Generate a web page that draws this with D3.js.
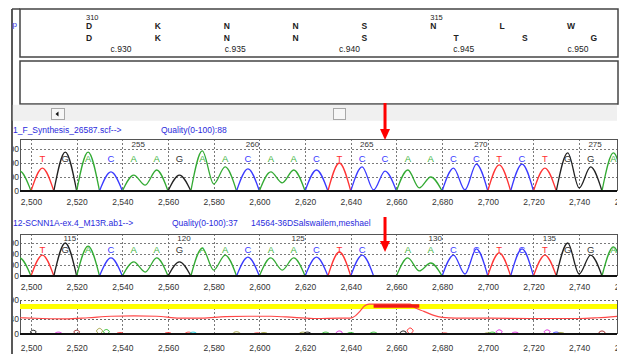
<!DOCTYPE html>
<html><head><meta charset="utf-8">
<script src="https://cdn.jsdelivr.net/npm/d3@7"></script>
<style>
html,body{margin:0;padding:0;background:#fff;}
svg{display:block;font-family:"Liberation Sans",Arial,sans-serif;}
</style></head><body>
<svg id="c" width="620" height="354"></svg>
<script>
// ---------------- data ----------------
const xTicks = [2500,2520,2540,2560,2580,2600,2620,2640,2660,2680,2700,2720,2740,2760];

// protein / cDNA header
const aaRef = ["D","K","N","N","S","N","L","W"];
const aaRefIdx = [0,1,2,3,4,5,6,7];
const aaMut = ["D","K","N","N","S","T","S","G"];
const aaMutIdx = [0,1,2,3,4,5.33,6.33,7.33];
const aaNums = [310,315];
const aaNumIdx = [0,5];
const cLabels = [930,935,940,945,950];

// reference trace (sample 1)
const refLabel = "1_F_Synthesis_26587.scf-->";
const refQuality = "Quality(0-100):88";
const refPos = [2495,2505,2515,2525,2535,2545,2555,2565,2575,2585,2595,2605,2615,2625,2635,2645,2655,2665,2675,2685,2695,2705,2715,2725,2735,2745,2755];
const refBases = ["A","T","G","A","C","A","A","G","A","A","C","A","A","C","T","C","C","A","A","C","C","T","C","T","G","G","A"];
const refHeights = [710,820,1390,1390,680,570,750,570,1430,860,790,680,750,750,1000,860,710,750,500,820,960,930,960,820,1360,860,1360];
const refTroughs = [[2550,210],[2580,250],[2610,290],[2650,40],[2670,110],[2690,40],[2740,110]];
const refNums = [255,260,265,270,275];
const refNumPos = [2545,2595,2645,2695,2745];
const refYTicks = [0,500,1000,1500];

// patient trace (sample 2)
const mutLabel = "12-SCNN1A-ex.4_M13R.ab1-->";
const mutQuality = "Quality(0-100):37";
const mutOwner = "14564-36DSalswailem,meshael";
const mutPos = [2495,2505,2515,2525,2535,2545,2555,2565,2575,2585,2595,2605,2615,2625,2635,2645,2665,2675,2685,2695,2705,2715,2725,2735,2745,2755];
const mutBases = ["A","T","G","A","C","A","A","G","A","A","C","A","A","C","T","C","A","A","C","C","T","C","T","G","G","A"];
const mutHeights = [820,950,1500,1360,820,640,820,640,1270,950,860,820,820,860,1090,950,820,590,950,1230,1050,1230,950,1500,950,1320];
const mutTroughs = [[2550,180],[2580,270],[2610,270],[2670,230],[2690,90],[2740,90]];
const mutNums = [115,120,125,130,135];
const mutNumPos = [2515,2565,2615,2675,2725];
const mutYTicks = [0,500,1000,1500];

// deletion marker
const arrowPos = 2655;

// difference panel
const qualPos = [2495,2505,2515,2525,2535,2545,2555,2565,2575,2585,2595,2605,2615,2625,2635,2640,2642,2644,2646,2648,2666,2668,2672,2676,2680,2686,2700,2720,2740,2748,2757];
const qualVal = [43,41,40,43,47,48,47,42,42,46,47,47,44,41,42,42,48,60,74,79,79,70,60,50,44,42,42,41,41,43,47];
const threshold = 73;
const flagRange = [2650,2670];
const diffYTicks = [0,40,90];
const loopPos = [2501,2512,2520,2530,2533,2539,2560,2569,2571,2590,2599,2602,2619,2621,2629,2635,2640,2650,2663,2666,2681,2700,2702,2705,2712,2726,2730,2732,2750];
const loopH =   [10,5,10,15,12,4,4,5,5,6,3,4,5,5,5,8,4,5,8,16,3,3,5,11,5,11,5,4,8];
const loopCol = ["#111","#e030e0","#a02828","#a0a040","#30c030","#ff4040","#ff4040","#ff4040","#20d0e0","#a0a040","#ff4040","#a0a040","#a0a040","#111","#30c030","#e030e0","#30c030","#30c030","#111","#ff3030","#ff4040","#a0a040","#30c030","#e030e0","#e030e0","#e030e0","#3030ff","#a0a040","#a02828"];

// ---------------- drawing ----------------
const svg = d3.select("#c");
const traceCol = {A:"#33aa33", C:"#3a3aff", G:"#222222", T:"#ff3434"};
const letterCol = {A:"#3cb43c", C:"#3a3aff", G:"#333333", T:"#ff3030"};
const L = 20, R = 617;
const x = d3.scaleLinear().domain([2500,2760]).range([31, 31 + 260*2.284]);

const defs = svg.append("defs");
defs.append("clipPath").attr("id","plotClip").append("rect").attr("x",L).attr("y",0).attr("width",R-L).attr("height",354);
defs.append("clipPath").attr("id","ylabClip").append("rect").attr("x",13).attr("y",0).attr("width",L-13).attr("height",354);

// outer frame line
svg.append("line").attr("x1",12).attr("x2",12).attr("y1",9).attr("y2",354).attr("stroke","#222").attr("stroke-width",1.5);
svg.append("line").attr("x1",12).attr("x2",L).attr("y1",9).attr("y2",9).attr("stroke","#444").attr("stroke-width",1.5);
svg.append("text").attr("x",12.5).attr("y",27).attr("font-size",8).attr("fill","#3030e0").text("p");

// header boxes
svg.append("rect").attr("x",L).attr("y",9).attr("width",618-L).attr("height",48).attr("fill","#fff").attr("stroke","#444").attr("stroke-width",1.5);
svg.append("rect").attr("x",L).attr("y",61).attr("width",618-L).attr("height",43).attr("fill","#fff").attr("stroke","#444").attr("stroke-width",1.5);

const aaX = d3.scaleLinear().domain([0,7]).range([89,571]);
const cX = d3.scaleLinear().domain([930,950]).range([121,578]);
const hdr = svg.append("g").attr("fill","#222");
hdr.selectAll("text.aa1").data(aaRef).join("text").attr("x",(d,i)=>aaX(aaRefIdx[i])).attr("y",29)
  .attr("text-anchor","middle").attr("font-size",8.5).attr("font-weight","bold").text(d=>d);
hdr.selectAll("text.aa2").data(aaMut).join("text").attr("x",(d,i)=>aaX(aaMutIdx[i])).attr("y",40.5)
  .attr("text-anchor","middle").attr("font-size",8.5).attr("font-weight","bold").text(d=>d);
hdr.selectAll("text.num").data(aaNums).join("text").attr("x",(d,i)=>aaX(aaNumIdx[i])-3).attr("y",19.5)
  .attr("font-size",7.5).text(d=>d);
hdr.selectAll("text.c").data(cLabels).join("text").attr("x",d=>cX(d)).attr("y",52)
  .attr("text-anchor","middle").attr("font-size",8.5).text(d=>"c."+d);

// scrollbar
svg.append("rect").attr("x",12.8).attr("y",104.8).attr("width",R-12.8).attr("height",16).attr("fill","#f0f0f0");
svg.append("rect").attr("x",51.5).attr("y",108.5).attr("width",13).attr("height",11).attr("fill","#f7f7f7").attr("stroke","#a8a8a8");
svg.append("path").attr("d",`M55.5,114 L58.5,111.5 L58.5,116.5 Z`).attr("fill","#111");
svg.append("rect").attr("x",333.5).attr("y",108.5).attr("width",12).attr("height",11).attr("fill","#f7f7f7").attr("stroke","#a8a8a8");

function buildSegments(bases, pos, heights, troughs){
  const tm = new Map(troughs);
  const segs = [];
  let cur = null;
  for(let i=0;i<bases.length;i++){
    const adj = cur && cur.base===bases[i] && pos[i]-cur.last<=10.5;
    if(!adj){
      if(cur){ cur.pts.push([cur.last+5,0]); segs.push(cur); }
      cur = {base:bases[i], pts:[[pos[i]-5,0]], last:pos[i]};
    } else {
      const m = (cur.last+pos[i])/2;
      cur.pts.push([m, tm.get(m)||0]);
      cur.last = pos[i];
    }
    cur.pts.push([pos[i], heights[i]]);
  }
  if(cur){ cur.pts.push([cur.last+5,0]); segs.push(cur); }
  return segs;
}

function drawTrace(cfg){
  const {top, base, yMax, yTicks, bases, pos, heights, troughs, nums, numPos, letterY, numY, axisPad} = cfg;
  const y = d3.scaleLinear().domain([0,yMax]).range([base, top]);
  const g = svg.append("g");
  g.selectAll("line.hg").data(yTicks.filter(d=>d>0)).join("line")
    .attr("x1",L).attr("x2",R).attr("y1",d=>Math.round(y(d))+0.5).attr("y2",d=>Math.round(y(d))+0.5)
    .attr("stroke","#7a7a7a").attr("stroke-dasharray","2,2");
  g.selectAll("line.vg").data(xTicks).join("line").attr("clip-path","url(#plotClip)")
    .attr("x1",d=>Math.round(x(d))+0.5).attr("x2",d=>Math.round(x(d))+0.5).attr("y1",top).attr("y2",base)
    .attr("stroke","#7a7a7a").attr("stroke-dasharray","2,2");
  g.append("line").attr("x1",L).attr("x2",R).attr("y1",top+0.5).attr("y2",top+0.5).attr("stroke","#555");
  g.append("line").attr("x1",L+0.5).attr("x2",L+0.5).attr("y1",top).attr("y2",base).attr("stroke","#555");
  g.append("line").attr("x1",R+0.5).attr("x2",R+0.5).attr("y1",top).attr("y2",base).attr("stroke","#555");
  g.append("g").attr("clip-path","url(#ylabClip)").selectAll("text").data(yTicks).join("text")
    .attr("x",19).attr("y",d=>y(d)).attr("dy","0.35em").attr("text-anchor","end")
    .attr("font-size",8.5).attr("fill","#333").text(d=>d);
  const line = d3.line().x(d=>x(d[0])).y(d=>y(d[1])).curve(d3.curveMonotoneX);
  const segs = buildSegments(bases,pos,heights,troughs);
  g.append("g").attr("clip-path","url(#plotClip)").selectAll("path").data(segs).join("path")
    .attr("d",d=>line(d.pts)).attr("fill","none").attr("stroke",d=>traceCol[d.base]).attr("stroke-width",1.3);
  g.append("line").attr("x1",L).attr("x2",R).attr("y1",base).attr("y2",base).attr("stroke","#111").attr("stroke-width",2);
  const calls = pos.map((p,i)=>({p, b:bases[i]})).filter(d=>d.p>=2500);
  g.append("g").attr("clip-path","url(#plotClip)").selectAll("text").data(calls).join("text")
    .attr("x",d=>x(d.p)).attr("y",letterY).attr("text-anchor","middle").attr("font-size",9.5)
    .attr("fill",d=>letterCol[d.b]).text(d=>d.b);
  g.selectAll("text.n").data(nums).join("text").attr("x",(d,i)=>x(numPos[i])+4.5).attr("y",numY)
    .attr("text-anchor","middle").attr("font-size",8).attr("fill","#333").text(d=>d);
  const ax = g.append("g").attr("transform",`translate(0,${base})`).attr("clip-path","url(#plotClip)")
    .call(d3.axisBottom(x).tickValues(xTicks).tickFormat(d3.format(",")).tickSize(0).tickPadding(axisPad));
  ax.select(".domain").remove();
  ax.selectAll("text").attr("font-size",8.5).attr("fill","#333").attr("font-family","Liberation Sans, Arial, sans-serif");
  return y;
}

const lab = svg.append("g").attr("fill","#2a2adc").attr("font-size",8.5);
lab.append("text").attr("x",13).attr("y",133).text(refLabel);
lab.append("text").attr("x",161).attr("y",133).text(refQuality);
lab.append("text").attr("x",13).attr("y",226).text(mutLabel);
lab.append("text").attr("x",172).attr("y",226).text(mutQuality);
lab.append("text").attr("x",251).attr("y",226).text(mutOwner);

drawTrace({top:139, base:191, yMax:1857, yTicks:refYTicks, bases:refBases, pos:refPos, heights:refHeights,
  troughs:refTroughs, nums:refNums, numPos:refNumPos, letterY:161.5, numY:146.5, axisPad:8});
drawTrace({top:234, base:276, yMax:1909, yTicks:mutYTicks, bases:mutBases, pos:mutPos, heights:mutHeights,
  troughs:mutTroughs, nums:mutNums, numPos:mutNumPos, letterY:252.5, numY:241, axisPad:8});

{
  const top = 300, base = 334;
  const y = d3.scaleLinear().domain([0,90]).range([base, top]);
  const g = svg.append("g");
  g.selectAll("line.hg").data(diffYTicks.filter(d=>d>0)).join("line")
    .attr("x1",L).attr("x2",R).attr("y1",d=>Math.round(y(d))+0.5).attr("y2",d=>Math.round(y(d))+0.5)
    .attr("stroke","#666").attr("stroke-dasharray","2,2");
  g.selectAll("line.vg").data(xTicks).join("line").attr("clip-path","url(#plotClip)")
    .attr("x1",d=>Math.round(x(d))+0.5).attr("x2",d=>Math.round(x(d))+0.5).attr("y1",top).attr("y2",base)
    .attr("stroke","#7a7a7a").attr("stroke-dasharray","2,2");
  g.append("line").attr("x1",L+0.5).attr("x2",L+0.5).attr("y1",top).attr("y2",base).attr("stroke","#555");
  g.append("line").attr("x1",R+0.5).attr("x2",R+0.5).attr("y1",top).attr("y2",base).attr("stroke","#555");
  g.append("g").attr("clip-path","url(#ylabClip)").selectAll("text").data(diffYTicks).join("text")
    .attr("x",19).attr("y",d=>y(d)).attr("dy","0.35em").attr("text-anchor","end")
    .attr("font-size",8.5).attr("fill","#333").text(d=>d);
  g.append("line").attr("x1",L).attr("x2",R).attr("y1",y(threshold)).attr("y2",y(threshold))
    .attr("stroke","#ffff00").attr("stroke-width",5);
  const ql = d3.line().x((d,i)=>x(qualPos[i])).y(d=>y(d)).curve(d3.curveMonotoneX);
  g.append("path").attr("clip-path","url(#plotClip)").attr("d",ql(qualVal)).attr("fill","none")
    .attr("stroke","#ff4848").attr("stroke-width",1.2);
  g.append("line").attr("x1",x(flagRange[0])).attr("x2",x(flagRange[1])).attr("y1",y(threshold)-0.5).attr("y2",y(threshold)-0.5)
    .attr("stroke","#f01818").attr("stroke-width",3.5);
  const loop = d3.line().x(d=>x(d[0])).y(d=>y(d[1])).curve(d3.curveCatmullRomClosed);
  g.append("g").attr("clip-path","url(#plotClip)").selectAll("path").data(loopPos).join("path")
    .attr("d",(p,i)=>loop([[p,0],[p-1.3,loopH[i]*0.55],[p,loopH[i]],[p+1.3,loopH[i]*0.55]]))
    .attr("fill","none").attr("stroke",(p,i)=>loopCol[i]).attr("stroke-width",1);
  g.append("line").attr("x1",L).attr("x2",R).attr("y1",base).attr("y2",base).attr("stroke","#111").attr("stroke-width",2);
  const ax = g.append("g").attr("transform",`translate(0,${base})`).attr("clip-path","url(#plotClip)")
    .call(d3.axisBottom(x).tickValues(xTicks).tickFormat(d3.format(",")).tickSize(0).tickPadding(10.5));
  ax.select(".domain").remove();
  ax.selectAll("text").attr("font-size",8.5).attr("fill","#333").attr("font-family","Liberation Sans, Arial, sans-serif");
}

function arrow(y0, y1){
  const ax = x(arrowPos);
  svg.append("rect").attr("x",ax-1.5).attr("y",y0).attr("width",3).attr("height",y1-y0-10).attr("fill","#f00");
  svg.append("path").attr("d",`M${ax-5},${y1-11} L${ax+5},${y1-11} L${ax},${y1} Z`).attr("fill","#f00");
}
arrow(103, 140);
arrow(217, 252);
</script>
</body></html>
